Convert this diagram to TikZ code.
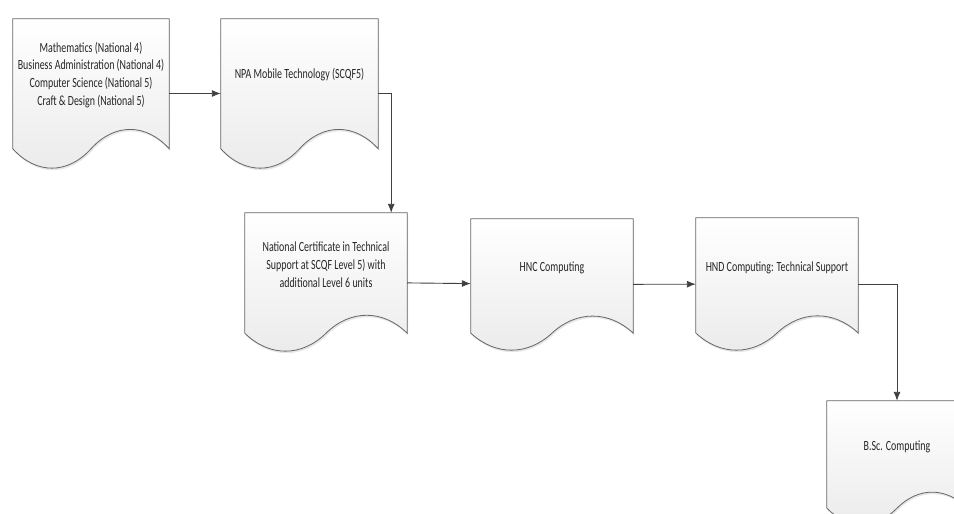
\documentclass[tikz,border=0pt]{standalone}
\usepackage{fontspec}
\setmainfont{Carlito}[FakeStretch=0.71]
\usetikzlibrary{positioning, arrows.meta, calc, backgrounds, shadows}
\tikzset{%
	>={Latex[length=9pt,width=7pt]},
	flow/.style = {->, draw=black!75, line width=0.9pt},
	doctext/.style = {align=center, font=\fontsize{14}{17.7}\selectfont, text=black!85},
	doc/.style n args = {3}{rectangle, inner sep=0pt, minimum width=#1, minimum height=#2, label={[doctext, yshift=0.125*#2]center:{#3}}},
	docfill/.style = {draw=black!60, line width=0.8pt, top color=white, bottom color=black!8, drop shadow={shadow xshift=1pt, shadow yshift=-2pt, opacity=0.2}}
}
% outline of a document shape round a node
\newcommand{\docshape}[1]{%
	\path[docfill] let \p1=(#1.north west), \p2=(#1.south east), \n1={\x2-\x1}, \n2={\y1-\y2} in
		(\x1,\y1) -- (\x2,\y1) -- (\x2,\y1-0.87*\n2)
		.. controls (\x1+0.85*\n1,\y1-0.697*\n2) and (\x1+0.65*\n1,\y1-0.697*\n2) .. (\x1+0.5*\n1,\y1-0.87*\n2)
		.. controls (\x1+0.35*\n1,\y1-1.043*\n2) and (\x1+0.15*\n1,\y1-1.043*\n2) .. (\x1,\y1-0.87*\n2) -- cycle;}

\begin{document}
\begin{tikzpicture}[x=1pt, y=-1pt]
	\useasboundingbox (0,0) rectangle (954,514);
	\node [doc = {156}{149}{Mathematics (National 4)\\Business Administration (National 4)\\Computer Science (National 5)\\Craft \& Design (National 5)}] (maths) at (91,93.5) {};
	\node [doc = {157}{149}{NPA Mobile Technology (SCQF5)}] (npa) at (299.5,93.5) {};
	\node [doc = {162}{138}{National Certificate in Technical\\Support at SCQF Level 5) with\\additional Level 6 units}] (natcert) at (326,282) {};
	\node [doc = {162}{131}{HNC Computing}] (hnc) at (552,284.5) {};
	\node [doc = {162}{132}{HND Computing: Technical Support}] (hnd) at (777,284) {};
	\node [doc = {140}{123}{B.Sc. Computing}] (bsc) at (897,462.5) {};
	\begin{scope}[on background layer]
		\foreach \docname in {maths, npa, natcert, hnc, hnd, bsc}
			\docshape{\docname};
	\end{scope}
	\draw [flow] (maths) -- (npa);
	\draw [flow] (npa.east) -| ([xshift=-16pt]natcert.north east);
	\draw [flow] (natcert) -- (hnc);
	\draw [flow] (hnc) -- (hnd);
	\draw [flow] (hnd.east) -| (bsc.north);
\end{tikzpicture}
\end{document}
